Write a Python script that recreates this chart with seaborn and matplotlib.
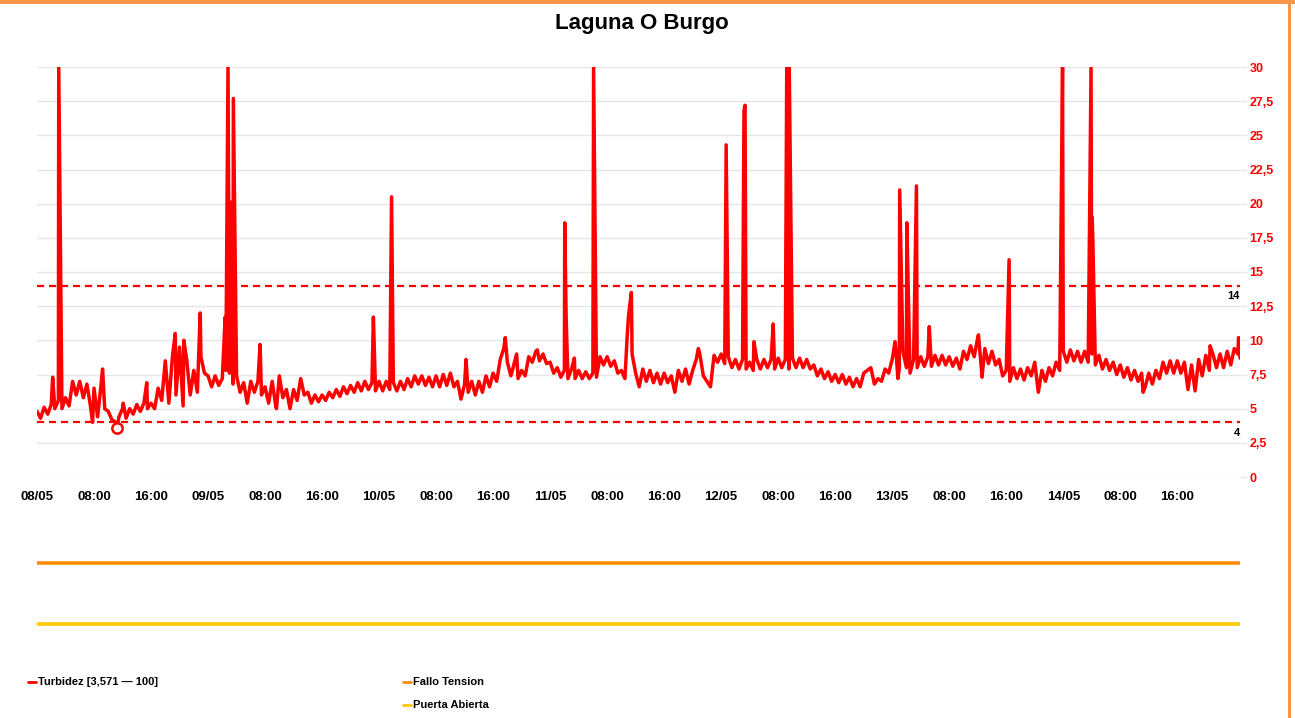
import pandas as pd
import numpy as np
import matplotlib
matplotlib.use("Agg")
import matplotlib.pyplot as plt
import matplotlib.transforms as mtransforms
from matplotlib.patches import Rectangle
from matplotlib.lines import Line2D
import seaborn as sns

# Turbidity readings every 30 min, one list per day
day_0805 = [4.8, 4.3, 5.1, 4.6, 5.3, 5.0, 5.6, 5.0, 5.8, 5.2, 7.0, 6.0, 7.0, 5.8, 6.8, 5.2,
            6.5, 4.4, 6.8, 5.0, 4.8, 4.2, 4.0, 4.4, 5.0, 4.3, 5.0, 4.6, 5.3, 4.8, 5.4, 5.0,
            5.4, 5.0, 6.5, 5.6, 8.5, 5.4, 8.8, 6.0, 9.5, 5.2, 8.6, 6.0, 7.8, 6.2, 8.8, 7.6]
day_0905 = [7.4, 6.6, 7.4, 6.7, 7.2, 7.8, 7.6, 6.8, 7.4, 6.2, 6.9, 5.4, 7.0, 6.2, 7.0, 6.0,
            6.6, 5.4, 7.0, 5.2, 7.4, 5.8, 6.4, 5.0, 6.4, 5.6, 7.2, 6.0, 6.2, 5.4, 6.0, 5.5,
            6.0, 5.6, 6.2, 5.8, 6.4, 5.9, 6.6, 6.1, 6.7, 6.2, 6.9, 6.3, 7.0, 6.4, 6.9, 6.3]
day_1005 = [7.0, 6.3, 7.0, 6.4, 6.9, 6.3, 7.0, 6.4, 7.2, 6.6, 7.4, 6.8, 7.4, 6.7, 7.3, 6.6,
            7.4, 6.6, 7.5, 6.7, 7.6, 6.6, 7.0, 5.7, 6.8, 6.2, 7.0, 6.0, 7.0, 6.2, 7.4, 6.6,
            7.6, 7.0, 8.6, 9.4, 8.4, 7.4, 8.4, 7.2, 7.8, 7.4, 8.8, 8.4, 9.2, 8.5, 9.0, 8.3]
day_1105 = [8.4, 7.6, 8.0, 7.3, 7.8, 7.2, 7.9, 7.2, 7.8, 7.2, 7.7, 7.2, 7.6, 7.3, 8.8, 8.2,
            8.8, 8.1, 8.5, 7.6, 7.8, 7.2, 11.8, 9.0, 7.6, 6.6, 7.9, 7.0, 7.8, 6.9, 7.6, 6.8,
            7.6, 6.9, 7.4, 6.2, 7.8, 7.0, 7.9, 6.8, 7.8, 8.6, 9.0, 7.4, 7.0, 6.6, 8.9, 8.4]
day_1205 = [9.0, 8.3, 8.8, 8.0, 8.6, 7.9, 8.6, 7.9, 8.4, 7.8, 8.6, 7.9, 8.6, 8.0, 8.6, 7.9,
            8.7, 8.0, 8.6, 7.9, 8.7, 8.0, 8.7, 8.0, 8.6, 7.9, 8.2, 7.4, 7.9, 7.2, 7.7, 7.0,
            7.5, 6.9, 7.5, 6.8, 7.3, 6.6, 7.2, 6.6, 7.6, 7.8, 8.0, 6.8, 7.2, 7.0, 7.9, 7.6]
day_1305 = [8.6, 9.4, 8.0, 9.2, 8.0, 7.6, 8.6, 8.0, 8.8, 8.1, 8.8, 8.1, 8.9, 8.2, 8.9, 8.2,
            8.8, 8.1, 8.7, 7.9, 9.2, 8.6, 9.6, 8.8, 10.2, 8.0, 9.4, 8.3, 9.2, 8.2, 8.6, 7.4,
            7.8, 7.0, 8.0, 7.2, 7.9, 7.1, 8.0, 7.4, 8.4, 6.2, 7.8, 7.0, 8.0, 7.4, 8.4, 7.8]
day_1405 = [9.2, 8.4, 9.3, 8.5, 9.2, 8.4, 9.2, 8.4, 9.0, 8.2, 8.9, 7.9, 8.6, 7.8, 8.4, 7.5,
            8.2, 7.3, 8.0, 7.1, 7.8, 7.0, 7.6, 6.6, 7.6, 6.8, 7.8, 7.2, 8.4, 7.6, 8.5, 7.6,
            8.5, 7.6, 8.4, 6.4, 8.2, 6.3, 8.6, 7.4, 8.9, 7.8, 9.0, 8.0, 9.0, 8.0, 9.2, 8.2,
            9.4, 9.0]

# Short events between the half-hour readings: hours since 08/05 00:00 and value
event_hours = [2.2, 3.05, 7.8, 9.2, 11.2, 12.1, 15.4, 19.4, 20.6, 22.9,
               26.4, 26.8, 27.2, 27.55, 31.3, 33.6, 47.2,
               49.75, 60.2, 65.7, 67.3, 70.2,
               74.05, 74.25, 75.4, 78.1, 82.8, 83.4, 92.8,
               96.7, 99.2, 99.35, 100.6, 103.3, 105.2, 105.3, 105.45, 105.55,
               120.4, 120.8, 121.05, 122.05, 123.4, 125.2, 132.1, 132.6, 136.4,
               143.9, 147.9, 148.05, 148.15, 155.2, 164.6, 168.6, 168.8]
event_values = [7.3, 30.0, 4.0, 7.9, 3.571, 5.4, 6.9, 10.5, 10.0, 12.0,
                11.7, 30.0, 20.1, 27.7, 9.7, 5.0, 11.7,
                20.5, 8.6, 10.2, 9.0, 9.3,
                18.6, 11.6, 8.7, 30.0, 10.2, 13.5, 9.4,
                24.3, 26.8, 27.2, 9.9, 11.2, 30.0, 8.6, 30.0, 30.0,
                9.9, 7.2, 21.0, 18.6, 21.3, 11.0, 10.4, 7.3, 15.9,
                30.0, 30.0, 19.0, 17.4, 6.2, 9.6, 10.2, 8.7]

# status signals (0 = no event during the whole week)
status_hours = [0.0, 168.8]
fallo_tension = [0, 0]
puerta_abierta = [0, 0]

limit_high = 14
limit_low = 4
y_ticks = [0, 2.5, 5, 7.5, 10, 12.5, 15, 17.5, 20, 22.5, 25, 27.5, 30]

days = [day_0805, day_0905, day_1005, day_1105, day_1205, day_1305, day_1405]
base_values = [v for d in days for v in d]
base_hours = [0.5 * i for i in range(len(base_values))]

start = pd.Timestamp("2024-05-08 00:00")
df = pd.DataFrame({"hours": base_hours + event_hours,
                   "turbidez": base_values + event_values})
df = df.sort_values("hours").reset_index(drop=True)
df["time"] = start + pd.to_timedelta(df["hours"], unit="h")

df_status = pd.DataFrame({
    "time": start + pd.to_timedelta(status_hours, unit="h"),
    "fallo": fallo_tension,
    "puerta": puerta_abierta,
})

sns.set_style("white")
plt.rcParams["font.family"] = ["Liberation Sans", "DejaVu Sans"]
plt.rcParams["font.weight"] = "bold"
plt.rcParams["text.color"] = "black"

W, H = 1295, 718
fig = plt.figure(figsize=(W / 100, H / 100), dpi=100)
ax = fig.add_axes([37 / W, 1 - 477 / H, (1240 - 37) / W, (477 - 67) / H])
ax2 = fig.add_axes([37 / W, 1 - 650 / H, (1240 - 37) / W, 110 / H])

RED = "#ff0000"
ORANGE = "#ff8c00"
YELLOW = "#ffc800"

# main turbidity line
sns.lineplot(data=df, x="time", y="turbidez", color=RED, lw=2.5, ax=ax,
             estimator=None, sort=False, legend=False)

# minimum marker
imin = int(df["turbidez"].idxmin())
sns.scatterplot(x=[df["time"][imin]], y=[df["turbidez"][imin]], ax=ax, s=55,
                facecolor="white", edgecolor=RED, linewidth=1.8, zorder=5, legend=False)

# threshold lines
blend = mtransforms.blended_transform_factory(ax.transAxes, ax.transData)
for lim in (limit_high, limit_low):
    ax.axhline(lim, color=RED, lw=1.6, ls=(0, (3.2, 2.2)), zorder=3)
    ax.annotate(str(lim), xy=(1.0, lim), xycoords=blend, xytext=(0, -4),
                textcoords="offset points", ha="right", va="top",
                fontsize=8, fontweight="bold", color="black")

t_end = df["time"].iloc[-1]
ax.set_ylim(0, 30)
ax.set_xlim(start, t_end)
ax.set_yticks(y_ticks)
ax.set_yticklabels([f"{v:g}".replace(".", ",") for v in y_ticks])
ax.yaxis.tick_right()
ax.grid(axis="y", color="#e6e6e6", lw=1)
ax.grid(axis="x", visible=False)
for s in ax.spines.values():
    s.set_visible(False)

xt = pd.date_range(start, start + pd.Timedelta(hours=160), freq="8h")
ax.set_xticks(xt)
ax.set_xticklabels([t.strftime("%d/%m") if t.hour == 0 else t.strftime("%H:%M") for t in xt])
ax.tick_params(axis="x", length=6, width=1, color="#e0e0e0", pad=4,
               labelsize=9.5, labelcolor="black")
ax.tick_params(axis="y", length=5, width=1, color="#e6e6e6", pad=2,
               labelsize=9, labelcolor=RED, right=True, left=False)
for lab in ax.get_xticklabels() + ax.get_yticklabels():
    lab.set_fontweight("bold")
ax.set_xlabel("")
ax.set_ylabel("")

# status lanes
lane_fallo, lane_puerta = 0.79, 0.24
sns.lineplot(x=df_status["time"], y=df_status["fallo"] + lane_fallo, color=ORANGE,
             lw=2.6, ax=ax2, legend=False)
sns.lineplot(x=df_status["time"], y=df_status["puerta"] + lane_puerta, color=YELLOW,
             lw=2.6, ax=ax2, legend=False)
ax2.set_xlim(start, t_end)
ax2.set_ylim(0, 1)
ax2.axis("off")

# title
fig.text(642 / W, 1 - 24 / H, "Laguna O Burgo", ha="center", va="center",
         fontsize=16, fontweight="bold", color="black")

# legend
legend_items = [
    (RED, "Turbidez [3,571 \u2014 100]", 28, 682),
    (ORANGE, "Fallo Tension", 403, 682),
    (YELLOW, "Puerta Abierta", 403, 705),
]
for col, label, px, py in legend_items:
    fig.add_artist(Line2D([px / W, (px + 8) / W], [1 - py / H, 1 - py / H],
                          color=col, lw=2, transform=fig.transFigure))
    fig.text((px + 10) / W, 1 - py / H, label, ha="left", va="center",
             fontsize=8, fontweight="bold", color="black")

# page frame
fig.add_artist(Rectangle((0, 1 - 4 / H), 1, 4 / H, transform=fig.transFigure,
                         color="#f79646", lw=0))
fig.add_artist(Rectangle((1288 / W, 0), 3 / W, 1, transform=fig.transFigure,
                         color="#f79646", lw=0))

fig.savefig("out.png", dpi=100, facecolor="white")
